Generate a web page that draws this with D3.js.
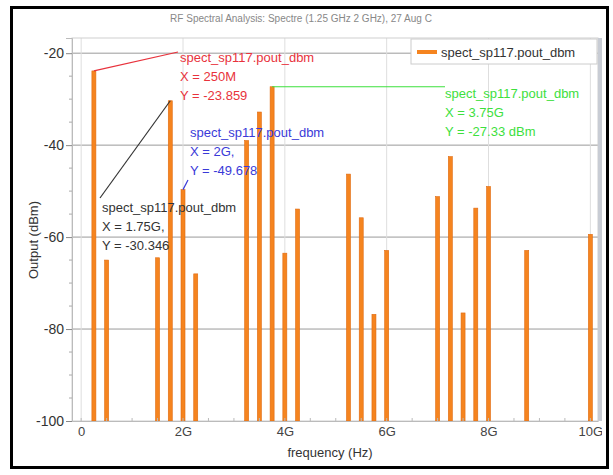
<!DOCTYPE html>
<html>
<head>
<meta charset="utf-8">
<script src="https://cdn.jsdelivr.net/npm/d3@7"></script>
<style>
    body { margin: 0; background: #fff; }
    #chart { width: 613px; height: 475px; }
    text { font-family: "Liberation Sans", Arial, sans-serif; }
</style>
</head>
<body>
<div id="chart"></div>
<script>
// harmonic / intermod lines, frequency in GHz
const freqs = [0.25, 0.5, 1.5, 1.75, 2.0, 2.25, 3.25, 3.5, 3.75, 4.0, 4.25,
               5.25, 5.5, 5.75, 6.0, 7.0, 7.25, 7.5, 7.75, 8.0, 8.75, 10.0];
const pout = [-23.86, -65.0, -64.5, -30.35, -49.68, -68.0, -39.0, -32.8, -27.3, -63.5, -53.9,
              -46.3, -55.8, -76.8, -62.9, -51.2, -42.5, -76.5, -53.7, -49.0, -62.9, -59.4];
const xTicks = [0, 2, 4, 6, 8, 10];
const yTicks = [-20, -40, -60, -80, -100];
const seriesName = 'spect_sp117.pout_dbm';
const chartTitle = 'RF Spectral Analysis: Spectre (1.25 GHz 2 GHz), 27 Aug C';

// marker annotations: which line, label lines, colour
const markers = [
    { f: 0.25, lines: [seriesName, 'X = 250M', 'Y = -23.859'], color: '#e8323c', lx: 180, ly: 62, anchor: [178, 52] },
    { f: 2.0,  lines: [seriesName, 'X = 2G,', 'Y = -49.678'], color: '#3a3ad8', lx: 190, ly: 137, anchor: [188, 180] },
    { f: 1.75, lines: [seriesName, 'X = 1.75G,', 'Y = -30.346'], color: '#333333', lx: 102, ly: 212, anchor: [100, 198] },
    { f: 3.75, lines: [seriesName, 'X = 3.75G', 'Y = -27.33 dBm'], color: '#3de03d', lx: 445, ly: 98, anchor: [445, null] }
];

class SpectrumChart {

    constructor(opts) {
        this.data = opts.freqs.map((f, i) => ({ f: f, p: opts.pout[i] }));
        this.element = opts.element;
        this.color = '#f5841f';
        this.draw();
    }

    draw() {
        this.width = 613;
        this.height = 475;
        this.box = { left: 72, right: 598, top: 38, bottom: 421 };

        this.element.innerHTML = '';
        this.svg = d3.select(this.element).append('svg')
            .attr('width', this.width)
            .attr('height', this.height);

        this.svg.append('text')
            .attr('x', 301).attr('y', 22)
            .attr('text-anchor', 'middle')
            .attr('font-size', 10)
            .attr('fill', '#888')
            .text(chartTitle);

        this.createScales();
        this.addGrid();
        this.addBars();
        this.addAxes();
        this.addLegend();
        this.addMarkers();

        // right edge strip + outer frame drawn last, they trim the "10G" label like the original
        this.svg.append('rect')
            .attr('x', this.box.right).attr('y', this.box.top)
            .attr('width', 4).attr('height', this.box.bottom - this.box.top)
            .attr('fill', '#c8ccd4');
        this.svg.append('rect')
            .attr('x', 602).attr('y', 8)
            .attr('width', 6).attr('height', 460)
            .attr('fill', '#fff');
        this.svg.append('rect')
            .attr('x', 11.5).attr('y', 7.5)
            .attr('width', 596).attr('height', 460)
            .attr('fill', 'none')
            .attr('stroke', '#000')
            .attr('stroke-width', 3);
    }

    createScales() {
        this.xScale = d3.scaleLinear()
            .domain([-0.18, 10.15])
            .range([this.box.left, this.box.right]);

        this.yScale = d3.scaleLinear()
            .domain([-100, -16.7])
            .range([this.box.bottom, this.box.top]);
    }

    addGrid() {
        const g = this.svg.append('g');
        g.selectAll('.hgrid')
            .data(yTicks.slice(0, 4))
            .enter().append('line')
            .attr('x1', this.box.left).attr('x2', this.box.right)
            .attr('y1', d => this.yScale(d)).attr('y2', d => this.yScale(d))
            .attr('stroke', '#9a9a9a')
            .attr('stroke-width', 1);

        g.selectAll('.vgrid')
            .data(xTicks)
            .enter().append('line')
            .attr('x1', d => this.xScale(d)).attr('x2', d => this.xScale(d))
            .attr('y1', this.box.top).attr('y2', this.box.bottom)
            .attr('stroke', '#dedede')
            .attr('stroke-width', 1);

        // plot border
        g.append('rect')
            .attr('x', this.box.left).attr('y', this.box.top)
            .attr('width', this.box.right - this.box.left)
            .attr('height', this.box.bottom - this.box.top)
            .attr('fill', 'none')
            .attr('stroke', '#cfcfcf');
    }

    addBars() {
        const y0 = this.yScale(-100);
        this.svg.append('g').selectAll('.bar')
            .data(this.data)
            .enter()
            .append('rect')
            .classed('bar', true)
            .attr('x', d => this.xScale(d.f) - 2)
            .attr('y', d => this.yScale(d.p))
            .attr('width', 4)
            .attr('height', d => y0 - this.yScale(d.p))
            .attr('fill', this.color)
            .attr('stroke', '#e06a10')
            .attr('stroke-width', 0.6);
    }

    addAxes() {
        const xAxis = d3.axisBottom(this.xScale)
            .tickValues(xTicks)
            .tickSize(0)
            .tickPadding(6)
            .tickFormat(d => d === 0 ? '0' : d + 'G');

        const yAxis = d3.axisLeft(this.yScale)
            .tickValues(yTicks)
            .tickSize(6)
            .tickPadding(2)
            .tickFormat(d => String(d));

        const gx = this.svg.append('g')
            .attr('transform', `translate(0,${this.box.bottom})`)
            .call(xAxis);
        gx.select('.domain').attr('stroke', '#bbb');
        gx.selectAll('text').attr('font-size', 13).attr('fill', '#444')
            .attr('font-family', '"Liberation Sans", Arial, sans-serif');

        // minor x ticks
        this.svg.append('g').selectAll('line')
            .data(d3.range(0, 10.01, 0.5))
            .enter().append('line')
            .attr('x1', d => this.xScale(d)).attr('x2', d => this.xScale(d))
            .attr('y1', this.box.bottom - 3).attr('y2', this.box.bottom)
            .attr('stroke', '#bbb');

        const gy = this.svg.append('g')
            .attr('transform', `translate(${this.box.left},0)`)
            .call(yAxis);
        gy.select('.domain').attr('stroke', '#bbb');
        gy.selectAll('.tick line').attr('stroke', '#888');
        gy.selectAll('text').attr('font-size', 14).attr('fill', '#333')
            .attr('font-family', '"Liberation Sans", Arial, sans-serif');

        // minor y ticks
        this.svg.append('g').selectAll('line')
            .data(d3.range(-95, -16, 5).filter(v => v % 20 !== 0))
            .enter().append('line')
            .attr('x1', this.box.left - 3).attr('x2', this.box.left)
            .attr('y1', d => this.yScale(d)).attr('y2', d => this.yScale(d))
            .attr('stroke', '#aaa');

        this.svg.append('text')
            .attr('x', 330).attr('y', 457)
            .attr('text-anchor', 'middle')
            .attr('font-size', 13)
            .attr('fill', '#333')
            .text('frequency (Hz)');

        this.svg.append('text')
            .attr('transform', 'translate(38,240) rotate(-90)')
            .attr('text-anchor', 'middle')
            .attr('font-size', 13)
            .attr('fill', '#333')
            .text('Output (dBm)');
    }

    addLegend() {
        const lg = this.svg.append('g');
        lg.append('rect')
            .attr('x', 411).attr('y', 39)
            .attr('width', 186).attr('height', 25)
            .attr('fill', '#fff')
            .attr('stroke', '#ccc');
        lg.append('line')
            .attr('x1', 417).attr('x2', 437)
            .attr('y1', 52).attr('y2', 52)
            .attr('stroke', this.color)
            .attr('stroke-width', 4);
        lg.append('text')
            .attr('x', 441).attr('y', 57)
            .attr('font-size', 13)
            .attr('fill', '#333')
            .text(seriesName);
    }

    addMarkers() {
        markers.forEach(m => {
            const d = this.data.find(e => e.f === m.f);
            const bx = this.xScale(d.f);
            const by = this.yScale(d.p);
            const ax = m.anchor[0];
            const ay = m.anchor[1] === null ? by : m.anchor[1];

            this.svg.append('line')
                .attr('x1', bx).attr('y1', by)
                .attr('x2', ax).attr('y2', ay)
                .attr('stroke', m.color)
                .attr('stroke-width', 1.2);

            this.svg.append('g').selectAll('text')
                .data(m.lines)
                .enter().append('text')
                .attr('x', m.lx)
                .attr('y', (t, i) => m.ly + i * 19)
                .attr('font-size', 13)
                .attr('fill', m.color)
                .text(t => t);
        });
    }
}

new SpectrumChart({
    element: document.getElementById('chart'),
    freqs: freqs,
    pout: pout
});
</script>
</body>
</html>
